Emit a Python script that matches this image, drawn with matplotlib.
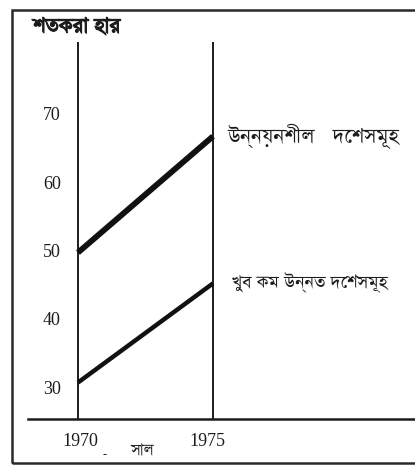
import matplotlib
matplotlib.use("Agg")
from matplotlib import pyplot as plt
from matplotlib.patches import Rectangle
import matplotlib.patheffects as pe

# percentage rate, 1970 -> 1975
years = [1970, 1975]
developing = [50, 67]          # উন্নয়নশীল দেশসমূহ
least_developed = [31, 45.5]   # খুব কম উন্নত দেশসমূহ
y_ticks = [30, 40, 50, 60, 70]

bn = ["FreeSerif", "FreeSans", "DejaVu Sans"]
num = ["Liberation Serif", "DejaVu Serif"]
ink = "#1c1c1c"

W, H = 415, 473
fig = plt.figure(figsize=(W / 100, H / 100), dpi=100)
fig.patch.set_facecolor("white")

# axes box in pixels: baseline at y=419, top at y=42, from x=28 to the right edge
ax = fig.add_axes([28 / W, (H - 419) / H, (W - 28) / W, (419 - 42) / H])
ax.set_xlim(1968.15, 1982.48)
ax.set_ylim(25.67, 80.79)
for s in ["top", "right", "left"]:
    ax.spines[s].set_visible(False)
ax.spines["bottom"].set_linewidth(1.8)
ax.spines["bottom"].set_color(ink)

# the two vertical year lines
for yr in years:
    ax.axvline(yr, color=ink, lw=1.4)

ax.plot(years, developing, color="#111111", lw=4.2, solid_capstyle="butt")
ax.plot(years, least_developed, color="#111111", lw=3.2, solid_capstyle="butt")

ax.set_yticks([])
ax.set_xticks([])

for v in y_ticks:
    ax.text(1969.04, v, str(v), family=num, fontsize=13, color=ink,
            ha="center", va="center")
for yr, dx in zip(years, [0.1, -0.2]):
    ax.text(yr + dx, -0.06, str(yr), transform=ax.get_xaxis_transform(),
            family=num, fontsize=13, color=ink, ha="center", va="center")

ax.text(1975.55, developing[1], "উন্নয়নশীল   দেশসমূহ", family=bn, fontsize=17.5,
        color=ink, ha="left", va="center")
ax.text(1975.7, least_developed[1], "খুব কম উন্নত দেশসমূহ", family=bn, fontsize=15,
        color=ink, ha="left", va="center")

fig.text(33 / W, 1 - 28 / H, "শতকরা হার", family=bn, fontsize=17.5,
         color=ink, ha="left", va="center",
         path_effects=[pe.withStroke(linewidth=0.8, foreground=ink)])
fig.text(105 / W, 1 - 455 / H, "-", family=num, fontsize=9, color=ink,
         ha="center", va="center")
fig.text(142 / W, 1 - 452 / H, "সাল", family=bn, fontsize=13.5,
         color=ink, ha="center", va="center")

# outer frame, open on the right
fig.add_artist(Rectangle((12 / W, (H - 463) / H), 1.0, (463 - 10) / H,
                         transform=fig.transFigure, fill=False,
                         edgecolor="#2a2a2a", lw=1.8))

fig.savefig("out.png", dpi=100)
